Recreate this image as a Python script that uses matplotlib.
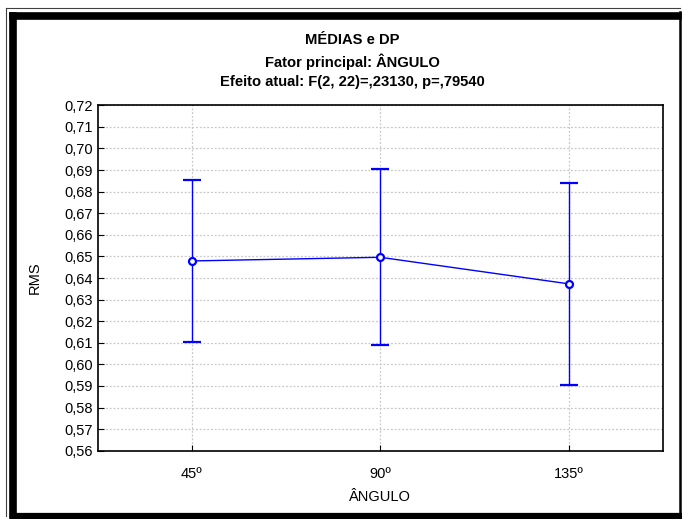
import matplotlib
matplotlib.use("Agg")
import matplotlib.pyplot as plt
from matplotlib.lines import Line2D
from matplotlib.ticker import FuncFormatter, MultipleLocator

plt.rcParams['font.family'] = ['Liberation Sans', 'DejaVu Sans']

# data (means and standard deviations)
categories = ["45º", "90º", "135º"]
means = [0.6479, 0.6496, 0.6373]
sd = [0.0375, 0.0408, 0.0469]

title_lines = ["MÉDIAS e DP",
               "Fator principal: ÂNGULO",
               "Efeito atual: F(2, 22)=,23130, p=,79540"]

W, H = 682, 519
fig = plt.figure(figsize=(W / 100, H / 100), dpi=100)
ax = fig.add_axes([0.143, 0.1316, 0.829, 0.6655])

x = list(range(len(categories)))
ax.errorbar(x, means, yerr=sd, color="#0000ff", lw=1, elinewidth=1,
            capsize=6.5, capthick=1, marker="o", ms=5, mfc="white",
            mec="#0000ff", mew=1.6, zorder=3)

ax.set_xlim(-0.5, 2.5)
ax.set_ylim(0.56, 0.72)
ax.set_xticks(x)
ax.set_xticklabels(categories)
ax.yaxis.set_major_locator(MultipleLocator(0.01))
ax.yaxis.set_major_formatter(FuncFormatter(lambda v, p: f"{v:.2f}".replace(".", ",")))
ax.tick_params(direction="in", length=4, labelsize=10.5, colors="black")
ax.tick_params(axis="x", pad=12)
ax.grid(True, color="#c8c8c8", ls=(0, (1.5, 1.5)), lw=0.9)
for s in ax.spines.values():
    s.set_linewidth(1.2)

ax.set_ylabel("RMS", fontsize=10.5, labelpad=16)
ax.set_xlabel("ÂNGULO", fontsize=10.5, labelpad=6)

for t, yy in zip(title_lines, [40, 62, 82]):
    fig.text(0.517, 1 - yy / H, t, ha="center", va="center",
             fontsize=10.6, fontweight="bold")


# frame around the figure (pixel coords, y from top)
def frame_line(x0, y0, x1, y1, lw, color="black"):
    fig.add_artist(Line2D([x0 / W, x1 / W], [1 - y0 / H, 1 - y1 / H],
                          transform=fig.transFigure, color=color, lw=lw,
                          solid_capstyle="projecting"))


# thin outer line
frame_line(6, 8, 680, 8, 0.8, "#404040")
frame_line(6, 8, 6, 516, 0.8, "#404040")
# thick band left / top / bottom, thinner right side
frame_line(12.5, 15.5, 678, 15.5, 5.5)
frame_line(12.5, 15.5, 12.5, 515, 5.5)
frame_line(12.5, 516, 680, 516, 4.5)
frame_line(679.5, 12, 679.5, 518, 1.8)

fig.savefig("out.png", dpi=100)
